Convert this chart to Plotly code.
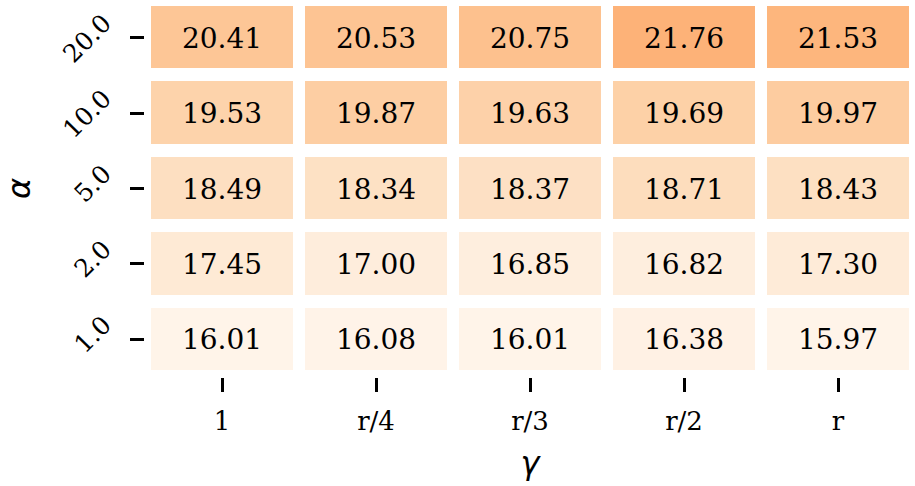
import plotly.graph_objects as go

gamma_labels = ["1", "r/4", "r/3", "r/2", "r"]
alpha_labels = ["1.0", "2.0", "5.0", "10.0", "20.0"]  # bottom to top

# rows in same order as alpha_labels (bottom to top)
values = [
    [16.01, 16.08, 16.01, 16.38, 15.97],
    [17.45, 17.00, 16.85, 16.82, 17.30],
    [18.49, 18.34, 18.37, 18.71, 18.43],
    [19.53, 19.87, 19.63, 19.69, 19.97],
    [20.41, 20.53, 20.75, 21.76, 21.53],
]

# Oranges colormap blended with white (alpha 0.8)
oranges = [(255, 245, 235), (254, 230, 206), (253, 208, 162), (253, 174, 107),
           (253, 141, 60), (241, 105, 19), (217, 72, 1), (166, 54, 3), (127, 39, 4)]
a = 0.8
colorscale = []
for i, c in enumerate(oranges):
    r, g, b = [round(a * v + (1 - a) * 255) for v in c]
    colorscale.append([i / (len(oranges) - 1), f"rgb({r},{g},{b})"])

fig = go.Figure(go.Heatmap(
    z=values,
    x=gamma_labels,
    y=alpha_labels,
    colorscale=colorscale,
    zmin=15.5,
    zmax=30.0,
    showscale=False,
    xgap=12,
    ygap=13,
    texttemplate="%{z:.2f}",
    textfont=dict(family="DejaVu Serif", size=28, color="black"),
    hoverinfo="skip",
))

fig.update_layout(
    width=915,
    height=486,
    margin=dict(l=145, r=0, t=0, b=109),
    plot_bgcolor="white",
    paper_bgcolor="white",
    font=dict(family="DejaVu Serif", color="black"),
)
fig.update_xaxes(
    type="category", automargin=False,
    ticks="outside", ticklen=14, tickwidth=3, tickcolor="black",
    tickfont=dict(family="DejaVu Serif", size=26),
    ticklabelstandoff=7,
    showgrid=False, zeroline=False, showline=False,
    title=dict(text="γ", font=dict(family="DejaVu Sans", size=32, style="italic"), standoff=16),
)
fig.update_yaxes(
    type="category", automargin=False,
    ticks="outside", ticklen=14, tickwidth=3, tickcolor="black",
    tickfont=dict(family="DejaVu Serif", size=25),
    tickangle=-45,
    ticklabelstandoff=21,
    ticklabelshift=-18,
    showgrid=False, zeroline=False, showline=False,
    title=dict(text="α", font=dict(family="DejaVu Sans", size=32, style="italic"), standoff=20),
)

fig.write_html(
    "out.html",
    config={"displayModeBar": False},
    post_script="document.body.style.margin='0';document.body.style.overflow='hidden';",
)
